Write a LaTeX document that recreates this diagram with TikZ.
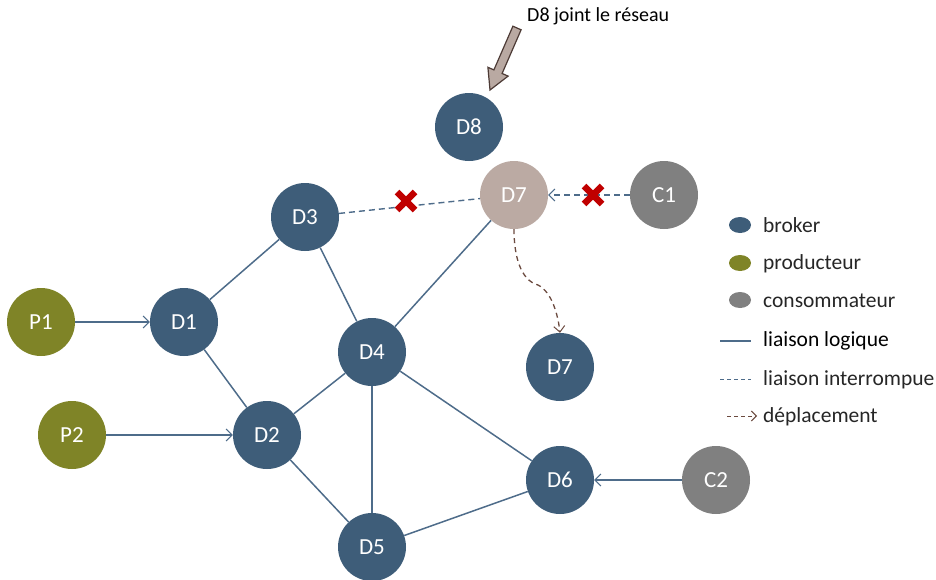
\documentclass[tikz,border=0pt]{standalone}
\usepackage{fontspec}
\setmainfont{Carlito}
\usetikzlibrary{arrows.meta}
\definecolor{broker}{HTML}{3E5D79}
\definecolor{prod}{HTML}{7F8427}
\definecolor{cons}{HTML}{808080}
\definecolor{ghost}{HTML}{BBAAA3}
\definecolor{link}{HTML}{4E6C8A}
\definecolor{move}{HTML}{6B4A3F}
\definecolor{cut}{HTML}{C00000}
\definecolor{callout}{HTML}{B9A9A2}
\definecolor{calloutedge}{HTML}{4D3B36}
\definecolor{legendgray}{HTML}{262626}
\begin{document}
\begin{tikzpicture}[x=1pt,y=-1pt,
  peer/.style={circle,minimum size=68pt,inner sep=0pt,text=white,font=\fontsize{23}{25}\selectfont},
  brk/.style={peer,fill=broker},
  prd/.style={peer,fill=prod},
  csm/.style={peer,fill=cons},
  gst/.style={peer,fill=ghost},
  logic/.style={draw=link,line width=1.5pt},
  feed/.style={draw=link,line width=1.5pt,-{Straight Barb[length=6pt,width=12pt,line width=1pt]}},
  broken/.style={draw=link,line width=1.4pt,dash pattern=on 6pt off 4pt},
  moveline/.style={draw=move,line width=1.3pt,dash pattern=on 5pt off 4pt},
  legtext/.style={anchor=west,font=\fontsize{21.5}{24}\selectfont,inner sep=0pt,text=legendgray},
  cross/.style={draw=cut,line width=6.5pt}
]
\useasboundingbox (0,0) rectangle (936,579);

% nodes
\node[prd] (P1) at (41,322) {P1};
\node[prd] (P2) at (72,435) {P2};
\node[brk] (D1) at (184,322) {D1};
\node[brk] (D2) at (267,435) {D2};
\node[brk] (D3) at (305,217) {D3};
\node[brk] (D4) at (372,352) {D4};
\node[brk] (D5) at (372,547) {D5};
\node[brk] (D6) at (560,480) {D6};
\node[brk] (D8) at (469,127) {D8};
\node[brk] (D7n) at (560,367) {D7};
\node[gst] (D7) at (514,195) {D7};
\node[csm] (C1) at (664,195) {C1};
\node[csm] (C2) at (716,480) {C2};

% logical links
\draw[logic] (D1) -- (D3);
\draw[logic] (D1) -- (D2);
\draw[logic] (D2) -- (D4);
\draw[logic] (D2) -- (D5);
\draw[logic] (D3) -- (D4);
\draw[logic] (D4) -- (D7);
\draw[logic] (D4) -- (D5);
\draw[logic] (D4) -- (D6);
\draw[logic] (D5) -- (D6);

% producers and consumers
\draw[feed] (P1) -- (D1);
\draw[feed] (P2) -- (D2);
\draw[feed] (C2) -- (D6);

% interrupted links
\draw[broken] (D3) -- (D7);
\draw[broken,-{Straight Barb[length=6pt,width=12pt,line width=1pt]}] (C1) -- (D7);

% cut marks
\coordinate (X1) at (406,201);
\coordinate (X2) at (593,195);
\foreach \c in {X1,X2}{
  \draw[cross] ([shift={(-9,-9)}]\c) -- ([shift={(9,9)}]\c);
  \draw[cross] ([shift={(-9,9)}]\c) -- ([shift={(9,-9)}]\c);
}

% displacement of D7
\draw[moveline,-{Straight Barb[length=6pt,width=11pt,line width=1pt]}]
  (D7.south) .. controls (514,255) and (520,280) .. (538,285)
  .. controls (552,292) and (558,315) .. (D7n.north);

% joining broker callout
\node[anchor=south west,inner sep=0pt,font=\fontsize{20}{22}\selectfont] (J) at (527,25) {D8 joint le réseau};
\draw[fill=callout,draw=calloutedge,line width=1.2pt,line join=miter]
  (490,90) -- (508.1,76.1) -- (502.1,73.5) -- (521.1,29.8) -- (512.9,26.2)
  -- (493.9,69.9) -- (487.9,67.3) -- cycle;

% legend
\fill[broker] (740,225) ellipse (11 and 8);
\fill[prod] (740,263) ellipse (11 and 8);
\fill[cons] (740,300) ellipse (11 and 8);
\node[legtext] (L1) at (763,225) {broker};
\node[legtext] (L2) at (763,264) {producteur};
\node[legtext] (L3) at (763,301) {consommateur};
\node[legtext,text=black] (L4) at (763,341) {liaison logique};
\node[legtext] (L5) at (763,380) {liaison interrompue};
\node[legtext] (L6) at (763,417) {déplacement};
\coordinate (a4) at (720,341);
\coordinate (b4) at (751,341);
\draw[logic] (a4) -- (b4);
\coordinate (a5) at (720,379);
\coordinate (b5) at (751,379);
\draw[draw=link,line width=1pt,dash pattern=on 4pt off 3pt] (a5) -- (b5);
\coordinate (a6) at (727,416);
\coordinate (b6) at (757,416);
\draw[draw=move,line width=1pt,dash pattern=on 4pt off 3pt,-{Straight Barb[length=5pt,width=10pt,line width=1pt]}] (a6) -- (b6);
\end{tikzpicture}
\end{document}
